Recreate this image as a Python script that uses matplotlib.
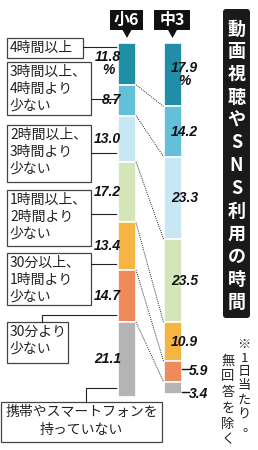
import matplotlib
matplotlib.use('Agg')
import matplotlib.pyplot as plt
from matplotlib import font_manager
from matplotlib.patches import Rectangle, FancyBboxPatch, Polygon
import numpy as np

plt.rcParams['font.family'] = ['Noto Sans CJK JP', 'DejaVu Sans']

# データ
groups = ['小6', '中3']
categories = ['4時間以上', '3時間以上、\n4時間より\n少ない', '2時間以上、\n3時間より\n少ない',
              '1時間以上、\n2時間より\n少ない', '30分以上、\n1時間より\n少ない', '30分より\n少ない',
              '携帯やスマートフォンを\n持っていない']
shares_sho6 = [11.8, 8.7, 13.0, 17.2, 13.4, 14.7, 21.1]
shares_chu3 = [17.9, 14.2, 23.3, 23.5, 10.9, 5.9, 3.4]
colors = ['#1f8ea6', '#63c0d9', '#c8e7f4', '#d4e6b8', '#f5b444', '#ef8a5b', '#b4b4b4']
title = '動画視聴やSNS利用の時間'
note_cols = ['※1日当たり。', '無回答を除く']

# 数字用フォント
names = {f.name for f in font_manager.fontManager.ttflist}
num_font = 'Liberation Sans Narrow' if 'Liberation Sans Narrow' in names else 'Liberation Sans'
num_size = 11 if num_font == 'Liberation Sans Narrow' else 10
num_kw = dict(family=num_font, style='italic', weight='bold', fontsize=num_size, color='#111111')

fig = plt.figure(figsize=(2.58, 4.5), dpi=100)
lay = fig.add_axes([0, 0, 1, 1])
lay.set_xlim(0, 258)
lay.set_ylim(450, 0)
lay.axis('off')

ax = fig.add_axes([0, 53 / 450, 1, 354 / 450])
ax.set_xlim(0, 258)
ax.set_ylim(100, 0)
ax.axis('off')
ax.patch.set_alpha(0)

bar_x = [127, 172.5]
bar_w = 18

cums = []
for x, vals in zip(bar_x, [shares_sho6, shares_chu3]):
    vals = np.array(vals)
    bottoms = np.concatenate([[0], np.cumsum(vals)[:-1]])
    ax.bar(x, vals, bottom=bottoms, width=bar_w, color=colors, edgecolor='white', linewidth=1.2)
    cums.append(np.cumsum(vals))

# 点線（区切りをつなぐ）
for a, b in zip(cums[0][:-1], cums[1][:-1]):
    ax.plot([bar_x[0] + bar_w / 2, bar_x[1] - bar_w / 2], [a, b], color='#222222',
            lw=0.7, ls=(0, (1, 1.2)))

# 小6の数値
mids6 = cums[0] - np.array(shares_sho6) / 2
for i, (v, m) in enumerate(zip(shares_sho6, mids6)):
    t = f'{v:.1f}' + ('\n%' if i == 0 else '')
    ax.text(121, m, t, ha='right', va='center', multialignment='center', linespacing=0.9, **num_kw)

# 中3の数値
mids3 = cums[1] - np.array(shares_chu3) / 2
for i, (v, m) in enumerate(zip(shares_chu3, mids3)):
    t = f'{v:.1f}' + ('\n%' if i == 0 else '')
    if i >= 5:
        yy = m + (1.8 if i == 6 else 0)
        ax.plot([bar_x[1] + bar_w / 2, 189], [yy - 0.6, yy - 0.6], color='#111111', lw=1.0)
        ax.text(189, yy, t, ha='left', va='center', **num_kw)
    else:
        ax.text(171, m, t, ha='left', va='center', multialignment='center', linespacing=0.9, **num_kw)

# 凡例ボックス (x0, x1, top, bottom)
boxes = [(7, 83, 38, 58), (7, 91, 62, 115), (7, 91, 125, 182), (7, 91, 190, 246),
         (7, 91, 253, 305), (7, 68, 322, 363), (1, 162, 402, 442)]
leaders = [[(83, 47), (118, 47)], [(91, 99), (118, 99)], [(91, 153), (118, 153)],
           [(91, 214), (118, 214)], [(91, 264), (118, 264)],
           [(42, 322), (42, 315), (118, 315)], [(86, 402), (86, 388), (118, 388)]]
for i, (cat, (x0, x1, t, b), ld) in enumerate(zip(categories, boxes, leaders)):
    lay.add_patch(Rectangle((x0, t), x1 - x0, b - t, fill=False, ec='#444444', lw=0.9))
    xs_, ys_ = zip(*ld)
    lay.plot(xs_, ys_, color='#222222', lw=0.8)
    for j, line in enumerate(cat.split('\n')):
        if i == 6:
            lay.text((x0 + x1) / 2, t + 10 + j * 18, line, ha='center', va='center',
                     fontsize=10, color='#222222')
        else:
            lay.text(x0 + 3, t + 10 + j * 17, line, ha='left', va='center',
                     fontsize=10, color='#222222')

# 見出し（小6・中3）
hdr = [(110, 143), (154, 190)]
for g, (x0, x1), bx in zip(groups, hdr, bar_x):
    lay.add_patch(Rectangle((x0, 10), x1 - x0, 20, color='#111111', lw=0))
    lay.add_patch(Polygon([(bx - 5, 29), (bx + 5, 29), (bx, 38)], closed=True, color='#111111', lw=0))
    lay.text((x0 + x1) / 2, 20, g, ha='center', va='center', color='white',
             fontsize=11.5, fontweight='bold')

# タイトル（縦書き）
lay.add_patch(FancyBboxPatch((223, 9), 27, 309, boxstyle='round,pad=0,rounding_size=3',
                             color='#1a1a1a', lw=0))
for i, ch in enumerate(title):
    lay.text(236.5, 29 + i * 22.75, ch, ha='center', va='center', color='white',
             fontsize=13, fontweight='bold')

# 注記（縦書き）
for (col, x, y0, step) in [(note_cols[0], 244, 344, 14), (note_cols[1], 228, 361, 15.8)]:
    for i, ch in enumerate(col):
        dx, dy = (5, 0) if ch == '。' else (0, 0)
        lay.text(x + dx, y0 + i * step + dy, ch, ha='center', va='center', color='#222222',
                 fontsize=9.5)

fig.savefig('out.png', dpi=100)
